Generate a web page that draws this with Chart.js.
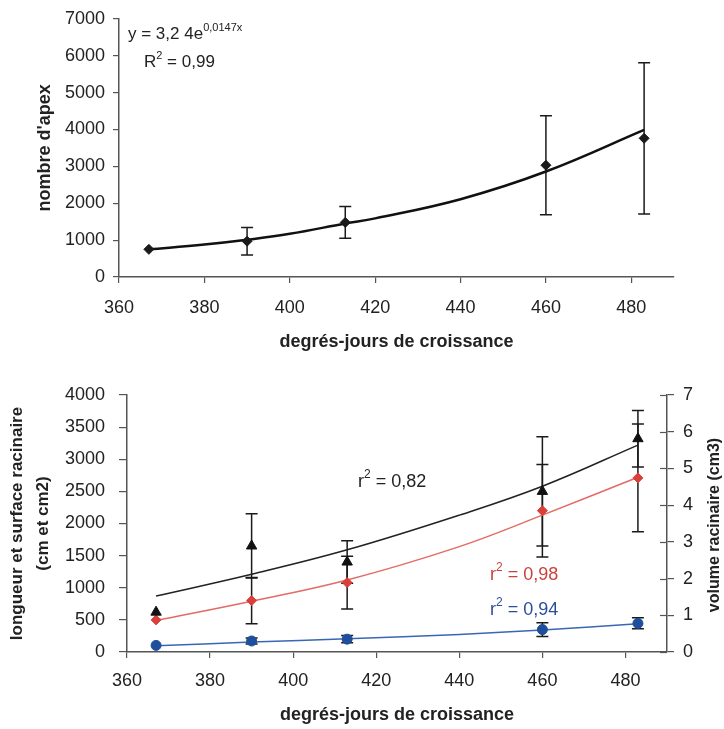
<!DOCTYPE html>
<html lang="fr">
<head>
<meta charset="utf-8">
<title>Apex et racines</title>
<script src="https://cdn.jsdelivr.net/npm/chart.js@4.4.1/dist/chart.umd.min.js"></script>
<style>
  body { margin: 0; background: #fff; }
  #haut { position: absolute; left: 0; top: 0; }
  #bas { position: absolute; left: 0; top: 365px; }
</style>
</head>
<body>
<canvas id="haut" width="724" height="365"></canvas>
<canvas id="bas" width="724" height="364"></canvas>
<script>
// degrés-jours de croissance
const degJours = [367, 390, 413, 460, 483];
const xTicks = [360, 380, 400, 420, 440, 460, 480];

// graphe du haut : nombre d'apex
const apex = [750, 970, 1480, 3030, 3760];
const apexErr = [0, 375, 430, 1340, 2050];
const apexFitX = [367, 380, 390, 400, 413, 420, 440, 460, 483];
const apexFitY = [750, 880, 1010, 1170, 1450, 1590, 2110, 2860, 3990];

// graphe du bas : longueur, surface (axe gauche) et volume (axe droit)
const longueur = [620, 1650, 1400, 2500, 3320];
const longueurErr = [0, 500, 330, 850, 440];
const surface = [500, 800, 1080, 2200, 2710];
const surfaceErr = [0, 360, 410, 720, 840];
const volume = [0.18, 0.30, 0.35, 0.61, 0.78];
const volumeErr = [0, 0.08, 0.10, 0.19, 0.15];
const fitX = [367, 390, 413, 440, 460, 483];
const longueurFit = [870, 1210, 1590, 2130, 2580, 3220];
const surfaceFit = [490, 790, 1120, 1640, 2130, 2720];
const volumeFit = [0.17, 0.27, 0.36, 0.48, 0.60, 0.77];

const police = '"Liberation Sans", Arial, sans-serif';
Chart.defaults.font.family = police;
Chart.defaults.color = '#222';

function pts(xs, ys) {
  return xs.map((x, i) => ({x: x, y: ys[i]}));
}
// pas de séparateur de milliers
const brut = v => String(v);

// barres d'erreur dessinées sous les marqueurs
const barresErreur = {
  id: 'barresErreur',
  beforeDatasetsDraw(chart) {
    const ctx = chart.ctx;
    chart.data.datasets.forEach((ds, i) => {
      if (!ds.erreurs) return;
      const meta = chart.getDatasetMeta(i);
      const ys = chart.scales[meta.yAxisID];
      ctx.save();
      ctx.strokeStyle = '#1a1a1a';
      ctx.lineWidth = 1.5;
      meta.data.forEach((p, j) => {
        const e = ds.erreurs[j];
        if (!e) return;
        const v = ds.data[j].y;
        const y1 = ys.getPixelForValue(v + e);
        const y2 = ys.getPixelForValue(v - e);
        ctx.beginPath();
        ctx.moveTo(p.x, y1); ctx.lineTo(p.x, y2);
        ctx.moveTo(p.x - 6, y1); ctx.lineTo(p.x + 6, y1);
        ctx.moveTo(p.x - 6, y2); ctx.lineTo(p.x + 6, y2);
        ctx.stroke();
      });
      ctx.restore();
    });
  }
};

// texte avec exposants : morceaux = [[texte, exposant?], ...]
function ecrire(ctx, x, y, morceaux, couleur, taille) {
  ctx.save();
  ctx.fillStyle = couleur;
  ctx.textBaseline = 'alphabetic';
  ctx.textAlign = 'left';
  morceaux.forEach(m => {
    const sup = m[1];
    ctx.font = (sup ? Math.round(taille * 0.65) : taille) + 'px ' + police;
    ctx.fillText(m[0], x, sup ? y - taille * 0.5 : y);
    x += ctx.measureText(m[0]).width;
  });
  ctx.restore();
}

function axeX(hauteur, pad, padTitre) {
  return {
    type: 'linear', min: 360, max: 490,
    afterBuildTicks: s => { s.ticks = xTicks.map(v => ({value: v})); },
    afterFit: s => { s.height = hauteur; },
    ticks: {font: {size: 18}, padding: pad, maxRotation: 0, callback: brut},
    grid: {drawOnChartArea: false, tickLength: 6, color: '#555', lineWidth: 1.2},
    border: {color: '#555', width: 1.5},
    title: {display: true, text: 'degrés-jours de croissance',
            font: {size: 18, weight: 'bold'}, padding: {top: 0, bottom: padTitre}}
  };
}

// ---------- graphe du haut ----------
new Chart(document.getElementById('haut'), {
  type: 'scatter',
  data: {
    datasets: [{
      label: "nombre d'apex",
      data: pts(degJours, apex),
      erreurs: apexErr,
      pointStyle: 'rectRot',
      pointRadius: 5,
      pointBackgroundColor: '#1a1a1a',
      pointBorderColor: '#1a1a1a'
    }, {
      label: 'ajustement',
      type: 'line',
      data: pts(apexFitX, apexFitY),
      borderColor: '#111',
      borderWidth: 2.5,
      pointRadius: 0,
      tension: 0.4,
      fill: false
    }]
  },
  options: {
    responsive: false,
    animation: false,
    devicePixelRatio: 1,
    layout: {padding: {top: 16, right: 50, left: 0, bottom: 0}},
    plugins: {legend: {display: false}, tooltip: {enabled: false}},
    scales: {
      x: axeX(88, 14, 12),
      y: {
        min: 0, max: 7000,
        afterFit: s => { s.width = 119; },
        ticks: {stepSize: 1000, font: {size: 18}, padding: 8, callback: brut},
        grid: {drawOnChartArea: false, tickLength: 6, color: '#555', lineWidth: 1.2},
        border: {color: '#555', width: 1.5},
        title: {display: true, text: "nombre d'apex",
                font: {size: 18, weight: 'bold'}, padding: {top: 34, bottom: 0}}
      }
    }
  },
  plugins: [barresErreur, {
    id: 'equation',
    afterDraw(chart) {
      const ctx = chart.ctx;
      ecrire(ctx, 128, 39, [['y = 3,2 4e'], ['0,0147x', true]], '#222', 17);
      ecrire(ctx, 144, 67, [['R'], ['2', true], [' = 0,99']], '#222', 17);
    }
  }]
});

// ---------- graphe du bas ----------
new Chart(document.getElementById('bas'), {
  type: 'scatter',
  data: {
    datasets: [{
      label: 'longueur',
      data: pts(degJours, longueur),
      erreurs: longueurErr,
      yAxisID: 'y',
      pointStyle: 'triangle',
      pointRadius: 6,
      pointBackgroundColor: '#111',
      pointBorderColor: '#111'
    }, {
      label: 'surface',
      data: pts(degJours, surface),
      erreurs: surfaceErr,
      yAxisID: 'y',
      pointStyle: 'rectRot',
      pointRadius: 5,
      pointBackgroundColor: '#d9403a',
      pointBorderColor: '#d9403a'
    }, {
      label: 'volume',
      data: pts(degJours, volume),
      erreurs: volumeErr,
      yAxisID: 'y2',
      pointStyle: 'circle',
      pointRadius: 5,
      pointBackgroundColor: '#1f4e9c',
      pointBorderColor: '#1f4e9c'
    }, {
      label: 'ajustement longueur',
      type: 'line',
      yAxisID: 'y',
      data: pts(fitX, longueurFit),
      borderColor: '#222',
      borderWidth: 1.5,
      pointRadius: 0,
      tension: 0.4
    }, {
      label: 'ajustement surface',
      type: 'line',
      yAxisID: 'y',
      data: pts(fitX, surfaceFit),
      borderColor: '#e46a64',
      borderWidth: 1.5,
      pointRadius: 0,
      tension: 0.4
    }, {
      label: 'ajustement volume',
      type: 'line',
      yAxisID: 'y2',
      data: pts(fitX, volumeFit),
      borderColor: '#3a66b5',
      borderWidth: 1.5,
      pointRadius: 0,
      tension: 0.4
    }]
  },
  options: {
    responsive: false,
    animation: false,
    devicePixelRatio: 1,
    layout: {padding: {top: 30, right: 0, left: 0, bottom: 0}},
    plugins: {legend: {display: false}, tooltip: {enabled: false}},
    scales: {
      x: axeX(77, 12, 3),
      y: {
        position: 'left',
        min: 0, max: 4000,
        afterFit: s => { s.width = 127; },
        ticks: {stepSize: 500, font: {size: 18}, padding: 14, callback: brut},
        grid: {drawOnChartArea: false, tickLength: 8, color: '#555', lineWidth: 1.2},
        border: {color: '#555', width: 1.5},
        title: {display: true, text: ['longueur et surface racinaire', '(cm et cm2)'],
                font: {size: 17, weight: 'bold', lineHeight: 1.53}, padding: {top: 4, bottom: 0}}
      },
      y2: {
        position: 'right',
        min: 0, max: 7,
        afterFit: s => { s.width = 57; },
        ticks: {stepSize: 1, font: {size: 18}, padding: 9, callback: brut},
        grid: {drawOnChartArea: false, tickLength: 7, color: '#555', lineWidth: 1.2},
        border: {color: '#555', width: 1.5}
      }
    }
  },
  plugins: [barresErreur, {
    id: 'annotations',
    afterDraw(chart) {
      const ctx = chart.ctx;
      // demi-graduations intérieures de l'axe droit
      const y2 = chart.scales.y2;
      ctx.save();
      ctx.strokeStyle = '#555';
      ctx.lineWidth = 1.2;
      y2.ticks.forEach(t => {
        const py = Math.round(y2.getPixelForValue(t.value)) + 0.5;
        ctx.beginPath();
        ctx.moveTo(y2.left - 7, py);
        ctx.lineTo(y2.left, py);
        ctx.stroke();
      });
      // titre de l'axe droit, lu de bas en haut
      ctx.translate(715, 160);
      ctx.rotate(-Math.PI / 2);
      ctx.font = 'bold 16px ' + police;
      ctx.fillStyle = '#222';
      ctx.textAlign = 'center';
      ctx.textBaseline = 'middle';
      ctx.fillText('volume racinaire (cm3)', 0, 0);
      ctx.restore();

      ecrire(ctx, 358, 122, [['r'], ['2', true], [' = 0,82']], '#222', 18);
      ecrire(ctx, 490, 215, [['r'], ['2', true], [' = 0,98']], '#c8433d', 18);
      ecrire(ctx, 490, 250, [['r'], ['2', true], [' = 0,94']], '#2a4f9a', 18);
    }
  }]
});
</script>
</body>
</html>
